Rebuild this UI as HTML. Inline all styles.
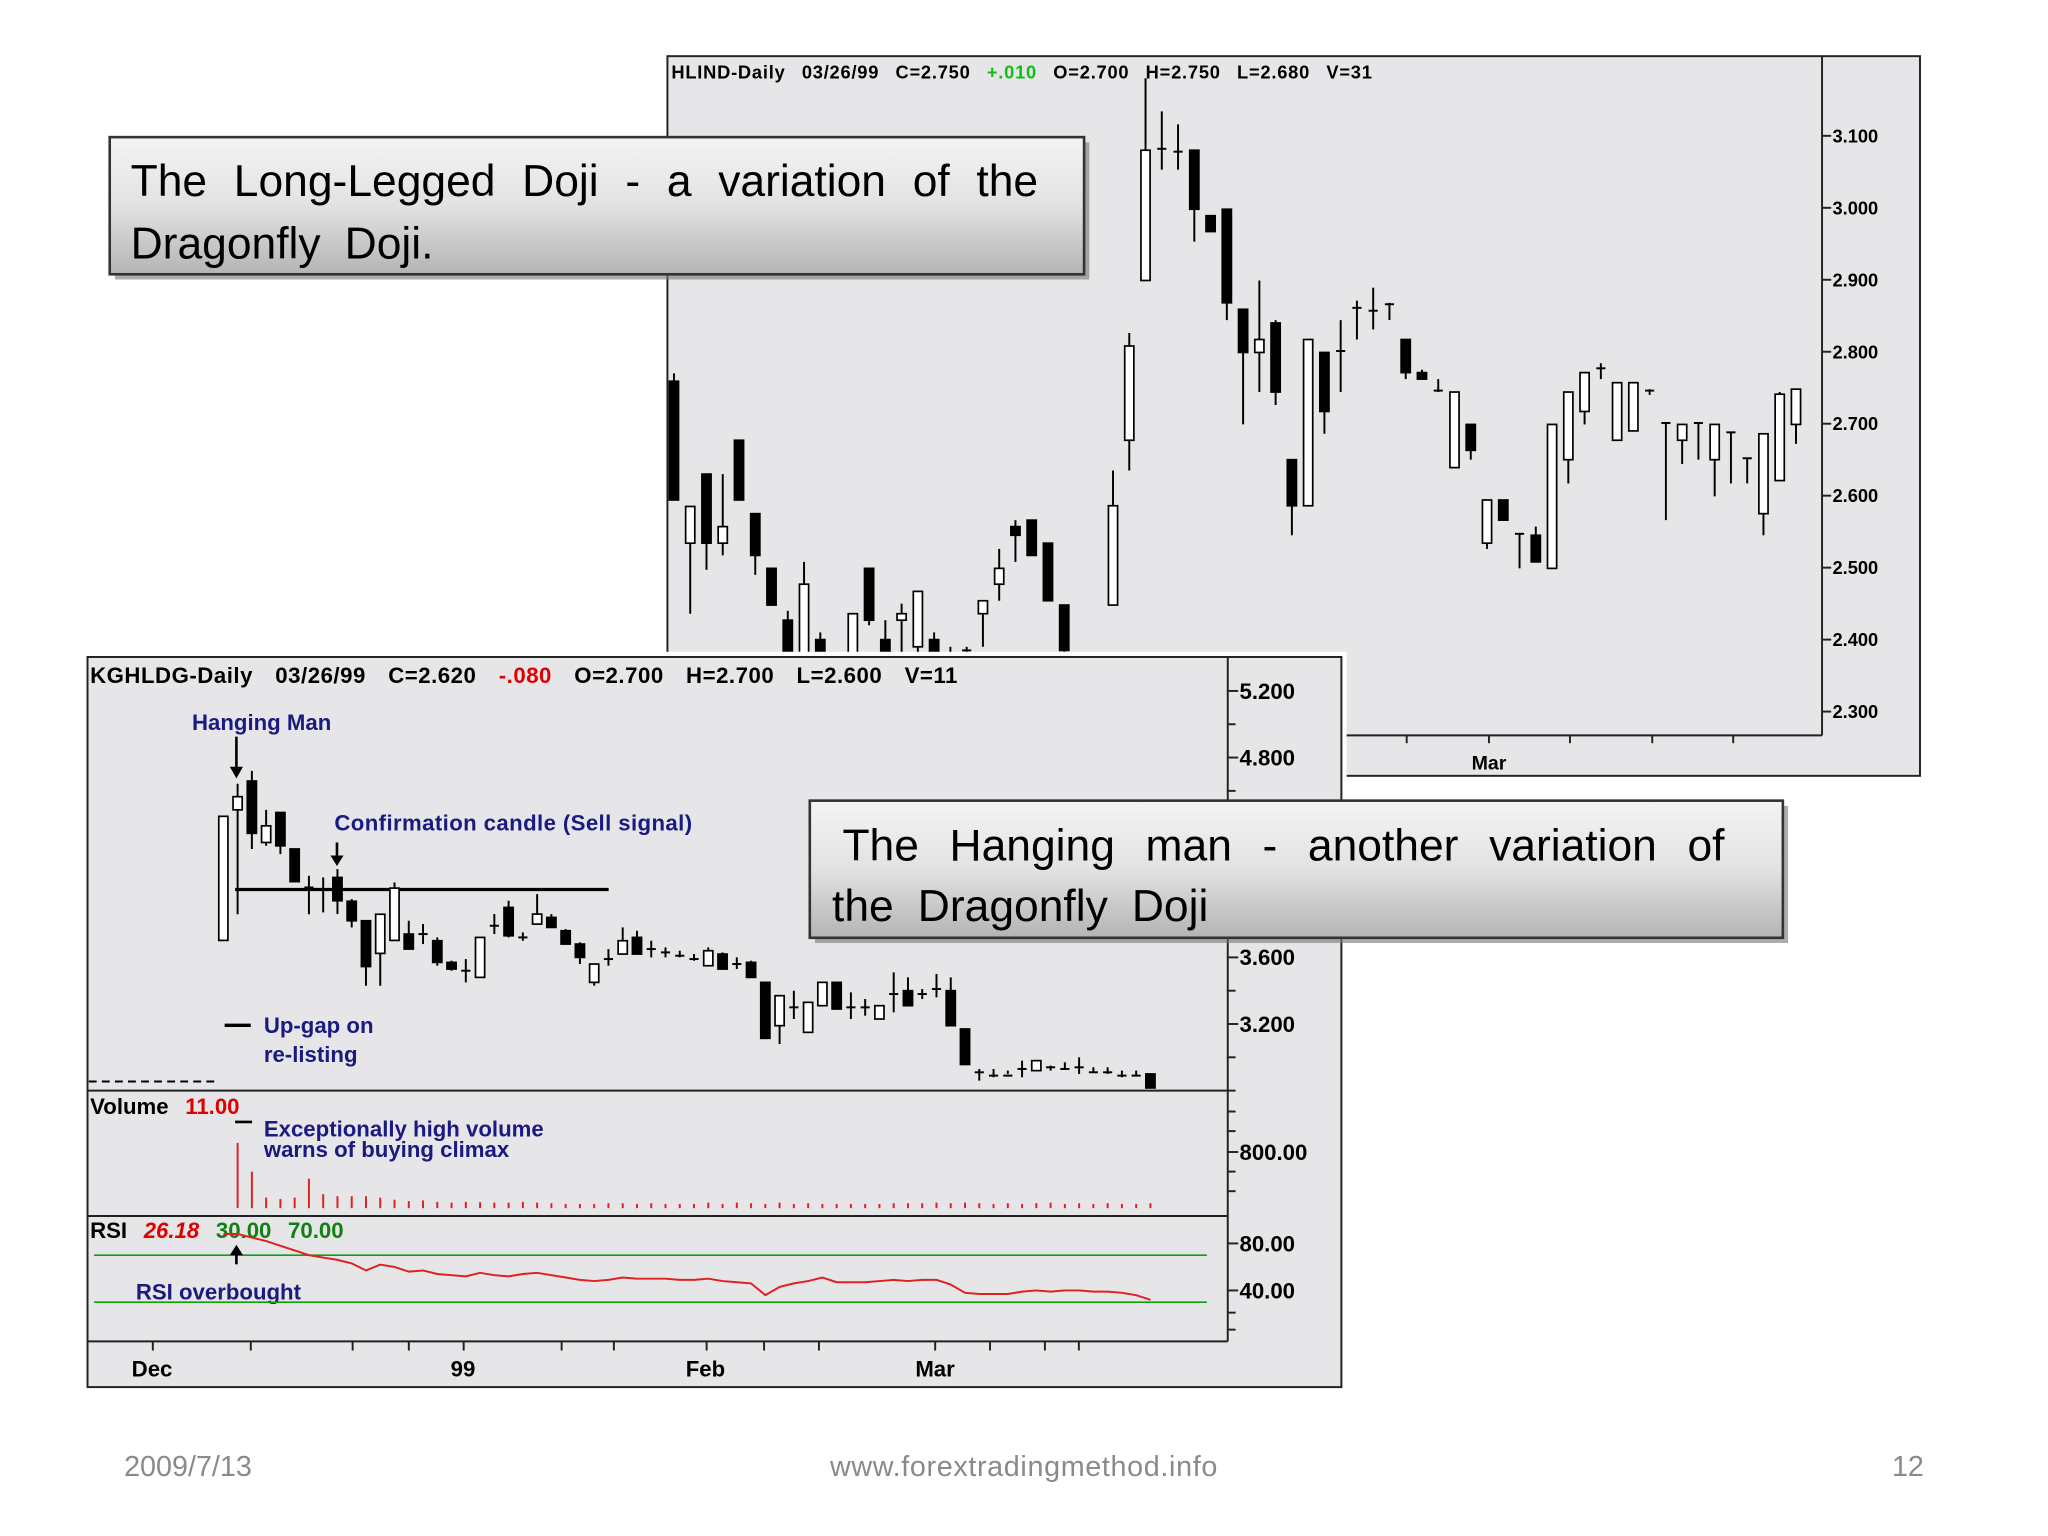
<!DOCTYPE html>
<html><head><meta charset="utf-8">
<style>
html,body{margin:0;padding:0;background:#fff;}
svg{display:block;}
.mono{font-family:"Liberation Sans",Arial,sans-serif;font-weight:bold;}
</style></head>
<body>
<svg id="svg" xmlns="http://www.w3.org/2000/svg" width="2048" height="1536" viewBox="0 0 1568 1176">
<defs>
<linearGradient id="boxg" x1="0" y1="0" x2="0" y2="1">
<stop offset="0" stop-color="#f4f4f4"/><stop offset="0.5" stop-color="#e2e2e2"/><stop offset="1" stop-color="#b4b4b4"/>
</linearGradient>
</defs>
<rect x="0" y="0" width="1568" height="1176" fill="#fff"/>

<g id="topChart">
<rect x="511" y="43" width="959" height="551" fill="#e6e5e8" stroke="#222" stroke-width="1.5"/>
<line x1="1395" y1="43" x2="1395" y2="563" stroke="#222" stroke-width="1.5"/>
<line x1="511" y1="563" x2="1395" y2="563" stroke="#222" stroke-width="1.5"/>
<text x="514" y="60" class="mono" font-size="14" letter-spacing="0.6" word-spacing="8">HLIND-Daily  03/26/99  C=2.750  <tspan fill="#10c010">+.010</tspan>  O=2.700  H=2.750  L=2.680  V=31</text>
<text x="1140" y="589" class="mono" font-size="15" text-anchor="middle">Mar</text>
<g id="topAxis"></g>
<g id="topCandles"></g>
</g>

<g id="botChart">
<rect x="64" y="499" width="967" height="567" fill="#fff" />
<rect x="67" y="503" width="960" height="559" fill="#e6e5e8" stroke="#222" stroke-width="1.5"/>
<line x1="940" y1="503" x2="940" y2="1027" stroke="#222" stroke-width="1.5"/>
<line x1="67" y1="835" x2="940" y2="835" stroke="#222" stroke-width="1.5"/>
<line x1="67" y1="931" x2="940" y2="931" stroke="#222" stroke-width="1.5"/>
<line x1="67" y1="1027" x2="940" y2="1027" stroke="#222" stroke-width="1.5"/>
<text x="69" y="523" class="mono" font-size="17" letter-spacing="0.4" word-spacing="12">KGHLDG-Daily  03/26/99  C=2.620  <tspan fill="#e00000">-.080</tspan>  O=2.700  H=2.700  L=2.600  V=11</text>
<line x1="180" y1="681" x2="466" y2="681" stroke="#000" stroke-width="2.5"/>
<line x1="68" y1="828" x2="166" y2="828" stroke="#000" stroke-width="1.5" stroke-dasharray="6,4"/>
<line x1="172" y1="785" x2="192" y2="785" stroke="#000" stroke-width="2.5"/>
<text x="147" y="559" font-family="Liberation Sans,sans-serif" font-weight="bold" font-size="17" fill="#1a1a80">Hanging Man</text>
<line x1="181" y1="564" x2="181" y2="590" stroke="#000" stroke-width="2"/><polygon points="176,587 186,587 181,596" fill="#000"/>
<text x="256" y="636" font-family="Liberation Sans,sans-serif" font-weight="bold" font-size="17" fill="#1a1a80" letter-spacing="0.3">Confirmation candle (Sell signal)</text>
<line x1="258" y1="645" x2="258" y2="657" stroke="#000" stroke-width="2"/><polygon points="253,655 263,655 258,663" fill="#000"/>
<text x="202" y="791" font-family="Liberation Sans,sans-serif" font-weight="bold" font-size="17" fill="#1a1a80">Up-gap on</text>
<text x="202" y="813" font-family="Liberation Sans,sans-serif" font-weight="bold" font-size="17" fill="#1a1a80">re-listing</text>
<text x="69" y="853" class="mono" font-size="17" word-spacing="8">Volume  <tspan fill="#e00000">11.00</tspan></text>
<line x1="180" y1="859" x2="193" y2="859" stroke="#000" stroke-width="2"/>
<text x="202" y="870" font-family="Liberation Sans,sans-serif" font-weight="bold" font-size="17" fill="#1a1a80">Exceptionally high volume</text>
<text x="202" y="886" font-family="Liberation Sans,sans-serif" font-weight="bold" font-size="17" fill="#1a1a80">warns of buying climax</text>
<text x="69" y="948" class="mono" font-size="17" word-spacing="8">RSI  <tspan fill="#e00000" font-style="italic">26.18</tspan>  <tspan fill="#108010">30.00</tspan>  <tspan fill="#108010">70.00</tspan></text>
<text x="104" y="995" font-family="Liberation Sans,sans-serif" font-weight="bold" font-size="17" fill="#1a1a80">RSI overbought</text>
<g id="botAxis"></g>
<g id="botVol"></g>
<g id="botRsi"></g>
<g id="botCandles"></g>
<line x1="181" y1="968" x2="181" y2="958" stroke="#000" stroke-width="2"/><polygon points="176,961 186,961 181,953" fill="#000"/>
</g>

<g>
<rect x="88" y="109" width="746" height="105" fill="#777" opacity="0.6"/>
<rect x="84" y="105" width="746" height="105" fill="url(#boxg)" stroke="#333" stroke-width="2"/>
<text x="100" y="150" font-family="Liberation Sans,sans-serif" font-size="34" word-spacing="11">The Long-Legged Doji - a variation of the</text>
<text x="100" y="198" font-family="Liberation Sans,sans-serif" font-size="34" word-spacing="9">Dragonfly Doji.</text>
</g>
<g>
<rect x="624" y="617" width="745" height="105" fill="#777" opacity="0.6"/>
<rect x="620" y="613" width="745" height="105" fill="url(#boxg)" stroke="#333" stroke-width="2"/>
<text x="645" y="659" font-family="Liberation Sans,sans-serif" font-size="34" word-spacing="14">The Hanging man - another variation of</text>
<text x="637" y="705" font-family="Liberation Sans,sans-serif" font-size="34" word-spacing="9">the Dragonfly Doji</text>
</g>

<text x="95" y="1130" font-family="Liberation Sans,sans-serif" font-size="22" fill="#8a8a8a">2009/7/13</text>
<text x="784" y="1130" font-family="Liberation Sans,sans-serif" font-size="22" fill="#8a8a8a" text-anchor="middle" letter-spacing="0.5">www.forextradingmethod.info</text>
<text x="1473" y="1130" font-family="Liberation Sans,sans-serif" font-size="22" fill="#8a8a8a" text-anchor="end">12</text>
</svg>
<script>
const topOpen=[2.759,2.534,2.630,2.534,2.677,2.575,2.499,2.427,2.38,2.400,2.36,2.38,2.499,2.400,2.427,2.39,2.400,2.38,2.385,2.436,2.477,2.557,2.566,2.534,2.448,2.35,2.36,2.448,2.677,2.899,3.080,3.080,3.080,2.989,2.998,2.859,2.799,2.840,2.650,2.586,2.799,2.799,2.859,2.859,2.868,2.817,2.771,2.744,2.639,2.699,2.534,2.594,2.545,2.545,2.499,2.650,2.717,2.775,2.677,2.690,2.744,2.699,2.677,2.699,2.650,2.686,2.650,2.575,2.621,2.699];
const topHigh=[2.770,2.585,2.630,2.630,2.677,2.575,2.499,2.440,2.508,2.41,2.38,2.436,2.499,2.427,2.45,2.467,2.41,2.39,2.39,2.454,2.526,2.566,2.566,2.534,2.448,2.37,2.38,2.635,2.826,3.180,3.134,3.116,3.080,2.989,2.998,2.859,2.899,2.844,2.650,2.817,2.799,2.844,2.871,2.889,2.868,2.817,2.775,2.762,2.744,2.699,2.594,2.594,2.547,2.557,2.699,2.744,2.771,2.784,2.757,2.757,2.748,2.701,2.699,2.701,2.699,2.688,2.652,2.686,2.744,2.748];
const topLow=[2.594,2.436,2.497,2.517,2.594,2.490,2.448,2.35,2.35,2.36,2.34,2.36,2.42,2.37,2.38,2.37,2.37,2.37,2.38,2.39,2.454,2.508,2.517,2.454,2.35,2.33,2.34,2.448,2.635,2.899,3.053,3.053,2.953,2.967,2.844,2.699,2.744,2.726,2.545,2.586,2.686,2.744,2.817,2.831,2.844,2.762,2.762,2.744,2.639,2.650,2.526,2.566,2.499,2.508,2.499,2.617,2.699,2.762,2.677,2.690,2.740,2.566,2.644,2.65,2.599,2.617,2.617,2.545,2.621,2.672];
const topClose=[2.594,2.585,2.534,2.557,2.594,2.517,2.448,2.38,2.477,2.37,2.37,2.436,2.427,2.38,2.436,2.467,2.38,2.38,2.385,2.454,2.499,2.545,2.517,2.454,2.385,2.36,2.37,2.586,2.808,3.080,3.082,3.078,2.998,2.967,2.868,2.799,2.817,2.744,2.586,2.817,2.717,2.801,2.861,2.857,2.866,2.771,2.762,2.746,2.744,2.663,2.594,2.566,2.547,2.508,2.699,2.744,2.771,2.777,2.757,2.757,2.746,2.701,2.699,2.701,2.699,2.688,2.652,2.686,2.741,2.748];
const topTicks=[3.1,3.0,2.9,2.8,2.7,2.6,2.5,2.4,2.3];
const topTickLabels=["3.100","3.000","2.900","2.800","2.700","2.600","2.500","2.400","2.300"];

const botOpen=[3.702,4.486,4.659,4.29,4.47,4.251,4.03,4.02,4.08,3.937,3.82,3.624,3.702,3.74,3.75,3.70,3.57,3.53,3.48,3.80,3.90,3.73,3.80,3.84,3.76,3.68,3.45,3.60,3.62,3.72,3.66,3.64,3.62,3.60,3.55,3.62,3.57,3.57,3.45,3.19,3.31,3.15,3.31,3.45,3.31,3.31,3.23,3.39,3.40,3.39,3.42,3.40,3.17,2.92,2.90,2.90,2.92,2.92,2.94,2.94,2.95,2.92,2.92,2.90,2.90,2.90];
const botHigh=[4.447,4.643,4.72,4.486,4.47,4.251,4.09,4.08,4.13,3.95,3.82,3.859,4.05,3.82,3.80,3.72,3.58,3.59,3.72,3.86,3.94,3.75,3.98,3.86,3.77,3.69,3.56,3.65,3.78,3.76,3.70,3.66,3.64,3.62,3.66,3.63,3.60,3.58,3.45,3.37,3.40,3.33,3.45,3.45,3.39,3.35,3.31,3.51,3.48,3.41,3.50,3.48,3.17,2.93,2.93,2.92,2.98,2.98,2.95,2.97,3.00,2.94,2.94,2.92,2.92,2.90];
const botLow=[3.702,3.859,4.251,4.27,4.22,4.05,3.859,3.87,3.86,3.78,3.43,3.43,3.70,3.65,3.68,3.55,3.52,3.45,3.48,3.74,3.72,3.70,3.80,3.78,3.68,3.56,3.43,3.55,3.62,3.62,3.60,3.60,3.60,3.58,3.55,3.53,3.53,3.48,3.114,3.08,3.23,3.15,3.31,3.29,3.23,3.25,3.23,3.27,3.31,3.35,3.36,3.19,2.957,2.86,2.88,2.90,2.88,2.92,2.92,2.93,2.90,2.91,2.90,2.88,2.89,2.816];
const botClose=[4.447,4.565,4.345,4.39,4.27,4.055,4.02,4.01,3.94,3.82,3.545,3.859,4.016,3.65,3.74,3.57,3.53,3.52,3.72,3.79,3.73,3.72,3.86,3.78,3.68,3.60,3.56,3.59,3.70,3.62,3.65,3.63,3.61,3.59,3.64,3.53,3.56,3.48,3.114,3.37,3.30,3.33,3.45,3.29,3.30,3.30,3.31,3.38,3.31,3.38,3.41,3.19,2.957,2.91,2.89,2.89,2.93,2.98,2.94,2.93,2.94,2.91,2.91,2.89,2.89,2.816];
const botVolume=[0,930,520,150,130,150,420,200,170,170,170,150,120,100,110,90,80,90,85,80,80,90,80,70,60,60,60,70,70,60,70,60,60,60,80,60,80,70,60,80,60,70,60,60,60,60,60,70,70,70,80,70,80,70,60,70,60,70,80,60,70,60,70,60,60,70];
const botRsi=[88,88,85,82,78,74,70,68,66,63,57,62,60,56,57,54,53,52,55,53,52,54,55,53,51,49,48,49,51,50,50,50,49,49,50,48,47,46,36,43,46,48,51,47,47,47,48,49,48,49,49,45,38,37,37,37,39,40,39,40,40,39,39,38,36,32];
const botPriceTicks=[5.2,4.8,3.6,3.2];
const botPriceLabels=["5.200","4.800","3.600","3.200"];
const botXLabels=["Dec","99","Feb","Mar"];
const botXLabelIdx=[-5.0,16.8,33.8,49.9];
const rsiTicks=[80,40];
const rsiTickLabels=["80.00","40.00"];
const volTicks=[800];
const volTickLabels=["800.00"];

const NS="http://www.w3.org/2000/svg";
function mk(tag,attrs,parent){const e=document.createElementNS(NS,tag);for(const k in attrs)e.setAttribute(k,attrs[k]);parent.appendChild(e);return e;}

const tY=p=>104+(3.1-p)*551;
const tX=i=>516+i*12.45;
const topAxis=document.getElementById('topAxis');
topTicks.forEach((t,i)=>{
  mk('line',{x1:1395,y1:tY(t),x2:1402,y2:tY(t),stroke:'#222','stroke-width':1.5},topAxis);
  const tx=mk('text',{x:1403,y:tY(t)+5,'font-size':14,class:'mono'},topAxis);tx.textContent=topTickLabels[i];
  
  
});
[1077,1140,1202,1265,1327].forEach(x=>mk('line',{x1:x,y1:563,x2:x,y2:569,stroke:'#222','stroke-width':1.5},topAxis));
const topC=document.getElementById('topCandles');
function candle(g,x,o,h,l,c,ys,w){
  const grp=mk('g',{},g);
  
  
  mk('line',{x1:x,y1:ys(h),x2:x,y2:ys(l),stroke:'#000','stroke-width':1.5},grp);
  const top=Math.min(ys(o),ys(c)),bh=Math.abs(ys(o)-ys(c));
  if(bh<2){mk('line',{x1:x-w/2,y1:ys(c),x2:x+w/2,y2:ys(c),stroke:'#000','stroke-width':1.5},grp);}
  else mk('rect',{x:x-w/2,y:top,width:w,height:bh,fill:c<o?'#000':'#fff',stroke:'#000','stroke-width':1.3},grp);
}
topOpen.forEach((o,i)=>candle(topC,tX(i),o,topHigh[i],topLow[i],topClose[i],tY,7));

const bY=p=>529+(5.2-p)*127.5;
const bX=i=>171+i*10.92;
const vY=v=>925-v*43/800;
const rY=v=>952+(80-v)*0.9;
const botAxis=document.getElementById('botAxis');
botPriceTicks.forEach((t,i)=>{
  mk('line',{x1:940,y1:bY(t),x2:948,y2:bY(t),stroke:'#222','stroke-width':1.5},botAxis);
  const tx=mk('text',{x:949,y:bY(t)+6,'font-size':17,class:'mono'},botAxis);tx.textContent=botPriceLabels[i];
  
  
});
[5.0,4.6,4.4,3.4,3.0,2.8].forEach(t=>mk('line',{x1:940,y1:bY(t),x2:946,y2:bY(t),stroke:'#222','stroke-width':1.5},botAxis));
volTicks.forEach((t,i)=>{
  mk('line',{x1:940,y1:vY(t),x2:948,y2:vY(t),stroke:'#222','stroke-width':1.5},botAxis);
  const tx=mk('text',{x:949,y:vY(t)+6,'font-size':17,class:'mono'},botAxis);tx.textContent=volTickLabels[i];
  
  
});
[851,866,897,912].forEach(y=>mk('line',{x1:940,y1:y,x2:946,y2:y,stroke:'#222','stroke-width':1.5},botAxis));
rsiTicks.forEach((t,i)=>{
  mk('line',{x1:940,y1:rY(t),x2:948,y2:rY(t),stroke:'#222','stroke-width':1.5},botAxis);
  const tx=mk('text',{x:949,y:rY(t)+6,'font-size':17,class:'mono'},botAxis);tx.textContent=rsiTickLabels[i];
  
  
});
[1005,1018].forEach(y=>mk('line',{x1:940,y1:y,x2:946,y2:y,stroke:'#222','stroke-width':1.5},botAxis));
[117,192,270,313,355,430,470,541,585,627,716,758,800,826].forEach(x=>mk('line',{x1:x,y1:1027,x2:x,y2:1034,stroke:'#222','stroke-width':1.5},botAxis));
botXLabels.forEach((l,i)=>{
  const tx=mk('text',{x:bX(botXLabelIdx[i]),y:1054,'font-size':17,class:'mono','text-anchor':'middle'},botAxis);tx.textContent=l;
  
  
});
const vg=document.getElementById('botVol');
botVolume.forEach((v,i)=>{
  if(v<=0)return;
  const ln=mk('line',{x1:bX(i),y1:vY(v),x2:bX(i),y2:925,stroke:'#e02020','stroke-width':1.5},vg);
  
  
});
const rg=document.getElementById('botRsi');
[70,30].forEach(v=>mk('line',{x1:72,y1:rY(v),x2:924,y2:rY(v),stroke:'#10a010','stroke-width':1.3},rg));
const pts=botRsi.map((v,i)=>bX(i).toFixed(1)+','+rY(v).toFixed(1)).join(' ');
const pl=mk('polyline',{points:pts,fill:'none',stroke:'#e02020','stroke-width':1.5},rg);


const bc=document.getElementById('botCandles');
botOpen.forEach((o,i)=>candle(bc,bX(i),o,botHigh[i],botLow[i],botClose[i],bY,7));
</script>
</body></html>
